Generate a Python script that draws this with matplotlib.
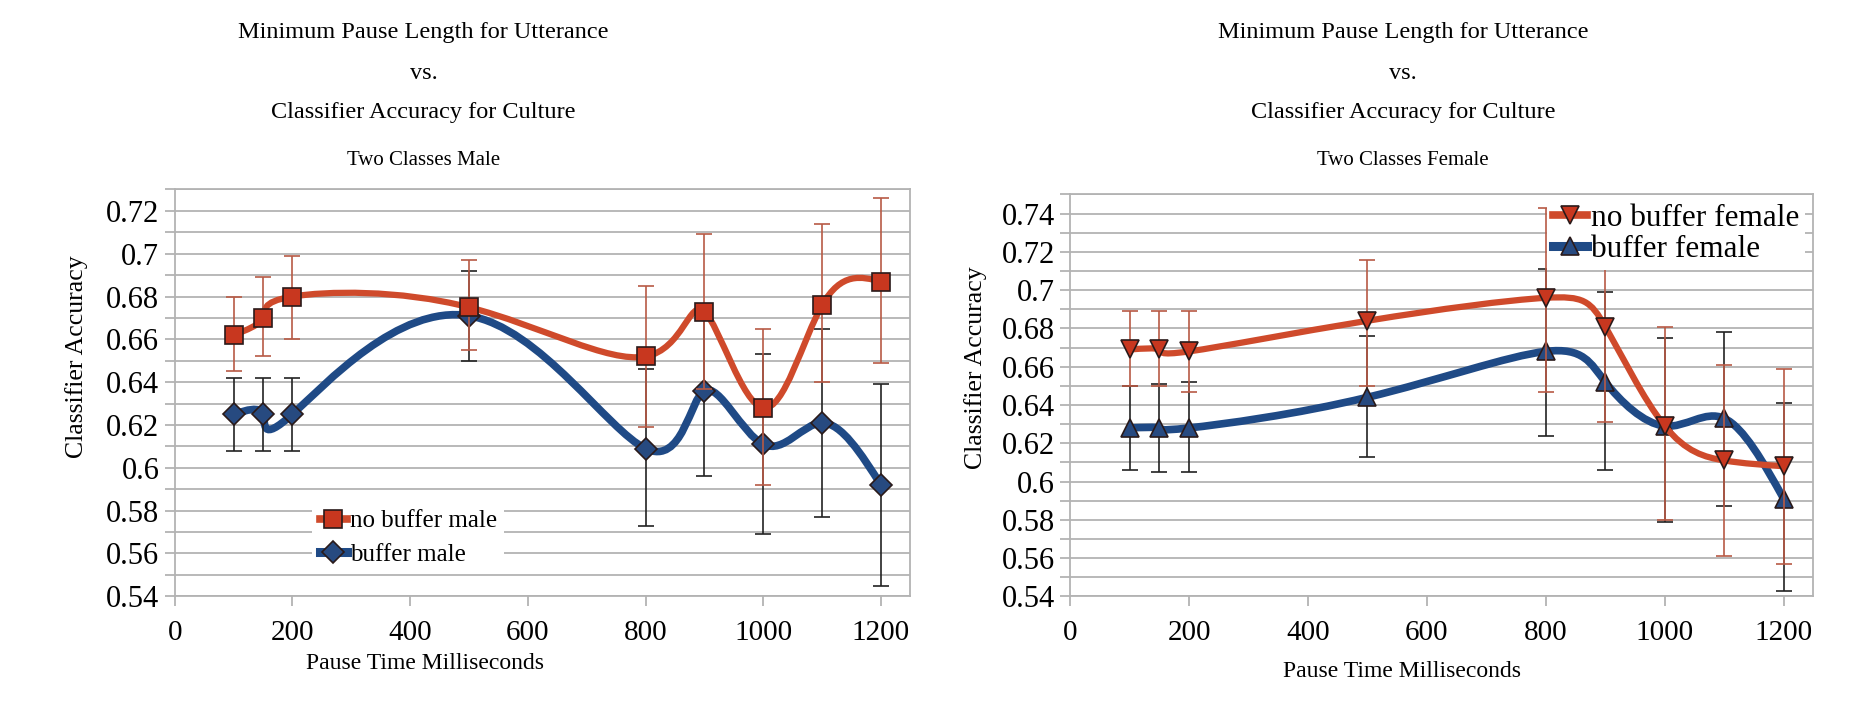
import numpy as np
import matplotlib
matplotlib.use('Agg')
import matplotlib.pyplot as plt
from matplotlib.path import Path
from matplotlib.patches import PathPatch
from matplotlib.lines import Line2D
from matplotlib.ticker import MultipleLocator

plt.rcParams['font.family'] = ['Liberation Serif', 'DejaVu Serif']

pause_ms = [100, 150, 200, 500, 800, 900, 1000, 1100, 1200]

# male
nobuf_male = [0.662, 0.670, 0.680, 0.675, 0.652, 0.673, 0.628, 0.676, 0.687]
nobuf_male_lo = [0.645, 0.652, 0.660, 0.655, 0.619, 0.637, 0.592, 0.640, 0.649]
nobuf_male_hi = [0.680, 0.689, 0.699, 0.697, 0.685, 0.709, 0.665, 0.714, 0.726]
buf_male = [0.625, 0.625, 0.625, 0.671, 0.609, 0.636, 0.611, 0.621, 0.592]
buf_male_lo = [0.608, 0.608, 0.608, 0.650, 0.573, 0.596, 0.569, 0.577, 0.545]
buf_male_hi = [0.642, 0.642, 0.642, 0.692, 0.646, 0.676, 0.653, 0.665, 0.639]

# female
nobuf_female = [0.669, 0.669, 0.668, 0.684, 0.696, 0.681, 0.629, 0.611, 0.608]
nobuf_female_lo = [0.650, 0.650, 0.647, 0.650, 0.647, 0.631, 0.580, 0.561, 0.557]
nobuf_female_hi = [0.689, 0.689, 0.689, 0.716, 0.743, 0.731, 0.681, 0.661, 0.659]
buf_female = [0.628, 0.628, 0.628, 0.644, 0.668, 0.652, 0.629, 0.633, 0.591]
buf_female_lo = [0.606, 0.605, 0.605, 0.613, 0.624, 0.606, 0.579, 0.587, 0.543]
buf_female_hi = [0.650, 0.651, 0.652, 0.676, 0.711, 0.699, 0.675, 0.678, 0.641]

RED = '#cf4a2b'
RED_MK = '#c8371f'
RED_ERR = '#b85a45'
BLUE = '#1f4a86'
BLUE_MK = '#274a80'
GRID = '#b3b3b3'


def natural_d(t, v):
    # first derivatives of a natural cubic spline v(t) at the knots
    n = len(t)
    h = np.diff(t)
    A = np.zeros((n, n))
    b = np.zeros(n)
    A[0, 0] = A[-1, -1] = 1
    for i in range(1, n - 1):
        A[i, i - 1] = h[i - 1]
        A[i, i] = 2 * (h[i - 1] + h[i])
        A[i, i + 1] = h[i]
        b[i] = 6 * ((v[i + 1] - v[i]) / h[i] - (v[i] - v[i - 1]) / h[i - 1])
    M = np.linalg.solve(A, b)
    s = np.diff(v) / h
    d0 = s - h * (2 * M[:-1] + M[1:]) / 6
    d1 = s + h * (M[:-1] + 2 * M[1:]) / 6
    return h, d0, d1


def spline_path(x, y):
    # parametric cubic spline (point index as parameter), as bezier pieces
    x = np.asarray(x, float)
    y = np.asarray(y, float)
    t = np.arange(len(x), dtype=float)
    h, dx0, dx1 = natural_d(t, x)
    _, dy0, dy1 = natural_d(t, y)
    verts = [(x[0], y[0])]
    codes = [Path.MOVETO]
    for i in range(len(x) - 1):
        k = h[i] / 3
        verts += [(x[i] + dx0[i] * k, y[i] + dy0[i] * k),
                  (x[i + 1] - dx1[i] * k, y[i + 1] - dy1[i] * k),
                  (x[i + 1], y[i + 1])]
        codes += [Path.CURVE4] * 3
    return Path(verts, codes)


def series(ax, y, lo, hi, color, mcolor, ecolor, marker, ms, lw, z, label):
    y = np.asarray(y)
    ax.add_patch(PathPatch(spline_path(pause_ms, y), facecolor='none',
                           edgecolor=color, lw=lw, zorder=z,
                           capstyle='round'))
    ax.errorbar(pause_ms, y, yerr=[y - np.asarray(lo), np.asarray(hi) - y],
                fmt='none', ecolor=ecolor, elinewidth=1.2, capsize=6,
                capthick=1.2, zorder=z + 0.2)
    ax.plot(pause_ms, y, linestyle='none', marker=marker, ms=ms,
            mfc=mcolor, mec='#2a1a1a', mew=1.2, zorder=z + 0.4)
    return Line2D([], [], color=color, lw=lw + 1, marker=marker, ms=ms,
                  mfc=mcolor, mec='#2a1a1a', mew=1.2, label=label)


def style(ax, ymax, xl, yl):
    ax.set_xlim(0, 1250)
    ax.set_ylim(0.54, ymax)
    ax.set_xticks(range(0, 1201, 200))
    ax.yaxis.set_major_locator(MultipleLocator(0.02))
    ax.yaxis.set_minor_locator(MultipleLocator(0.01))
    ax.yaxis.set_major_formatter(lambda v, p: ('%.2f' % v).rstrip('0'))
    ax.grid(True, which='both', axis='y', color=GRID, lw=1.3)
    ax.set_axisbelow(True)
    for sp in ax.spines.values():
        sp.set_color(GRID)
        sp.set_linewidth(1.3)
    ax.tick_params(axis='both', which='both', color=GRID, width=1.3,
                   length=7, direction='out')
    ax.tick_params(axis='y', labelsize=22, pad=4)
    ax.tick_params(axis='x', labelsize=21, pad=10)
    ax.set_ylabel('Classifier Accuracy', fontsize=18.5)
    ax.set_xlabel('Pause Time Milliseconds', fontsize=17)
    ax.yaxis.set_label_coords(yl[0], yl[1])
    ax.xaxis.set_label_coords(xl[0], xl[1])


def frame_white(leg):
    leg.get_frame().set_edgecolor('none')
    leg.get_frame().set_facecolor('white')
    leg.get_frame().set_alpha(1)


fig = plt.figure(figsize=(18.58, 7.15), dpi=100)

# left panel: male
ax1 = fig.add_axes([0.094, 0.166, 0.396, 0.569])
style(ax1, 0.73, (0.34, -0.14), (-0.118, 0.59))
h2 = series(ax1, buf_male, buf_male_lo, buf_male_hi, BLUE, BLUE_MK,
            '#222222', 'D', 11, 5.5, 3, 'buffer male')
h1 = series(ax1, nobuf_male, nobuf_male_lo, nobuf_male_hi, RED, RED_MK,
            RED_ERR, 's', 13, 4.5, 4, 'no buffer male')
leg = ax1.legend(handles=[h1, h2], loc='lower left',
                 bbox_to_anchor=(0.17, 0.025), fontsize=18, frameon=True,
                 handlelength=1.1, handletextpad=0.1, borderpad=0.3,
                 labelspacing=0.45, fancybox=False)
frame_white(leg)

# right panel: female
ax2 = fig.add_axes([0.576, 0.166, 0.400, 0.562])
style(ax2, 0.75, (0.447, -0.16), (-0.112, 0.57))
h4 = series(ax2, buf_female, buf_female_lo, buf_female_hi, BLUE, BLUE_MK,
            '#222222', '^', 13, 5.5, 3, 'buffer female')
h3 = series(ax2, nobuf_female, nobuf_female_lo, nobuf_female_hi, RED, RED_MK,
            RED_ERR, 'v', 13, 4.5, 4, 'no buffer female')
leg2 = ax2.legend(handles=[h3, h4], loc='upper right',
                  bbox_to_anchor=(1.01, 1.03), fontsize=22.5, frameon=True,
                  handlelength=1.1, handletextpad=0.1, borderpad=0.2,
                  labelspacing=0.05, fancybox=False)
frame_white(leg2)

for cx, sub in [(0.228, 'Two Classes Male'), (0.755, 'Two Classes Female')]:
    fig.text(cx, 0.954, 'Minimum Pause Length for Utterance', ha='center',
             va='center', fontsize=17.5)
    fig.text(cx, 0.897, 'vs.', ha='center', va='center', fontsize=17.5)
    fig.text(cx, 0.842, 'Classifier Accuracy for Culture', ha='center',
             va='center', fontsize=17.5)
    fig.text(cx, 0.775, sub, ha='center', va='center', fontsize=15)

fig.savefig('out.png', dpi=100, facecolor='white')
